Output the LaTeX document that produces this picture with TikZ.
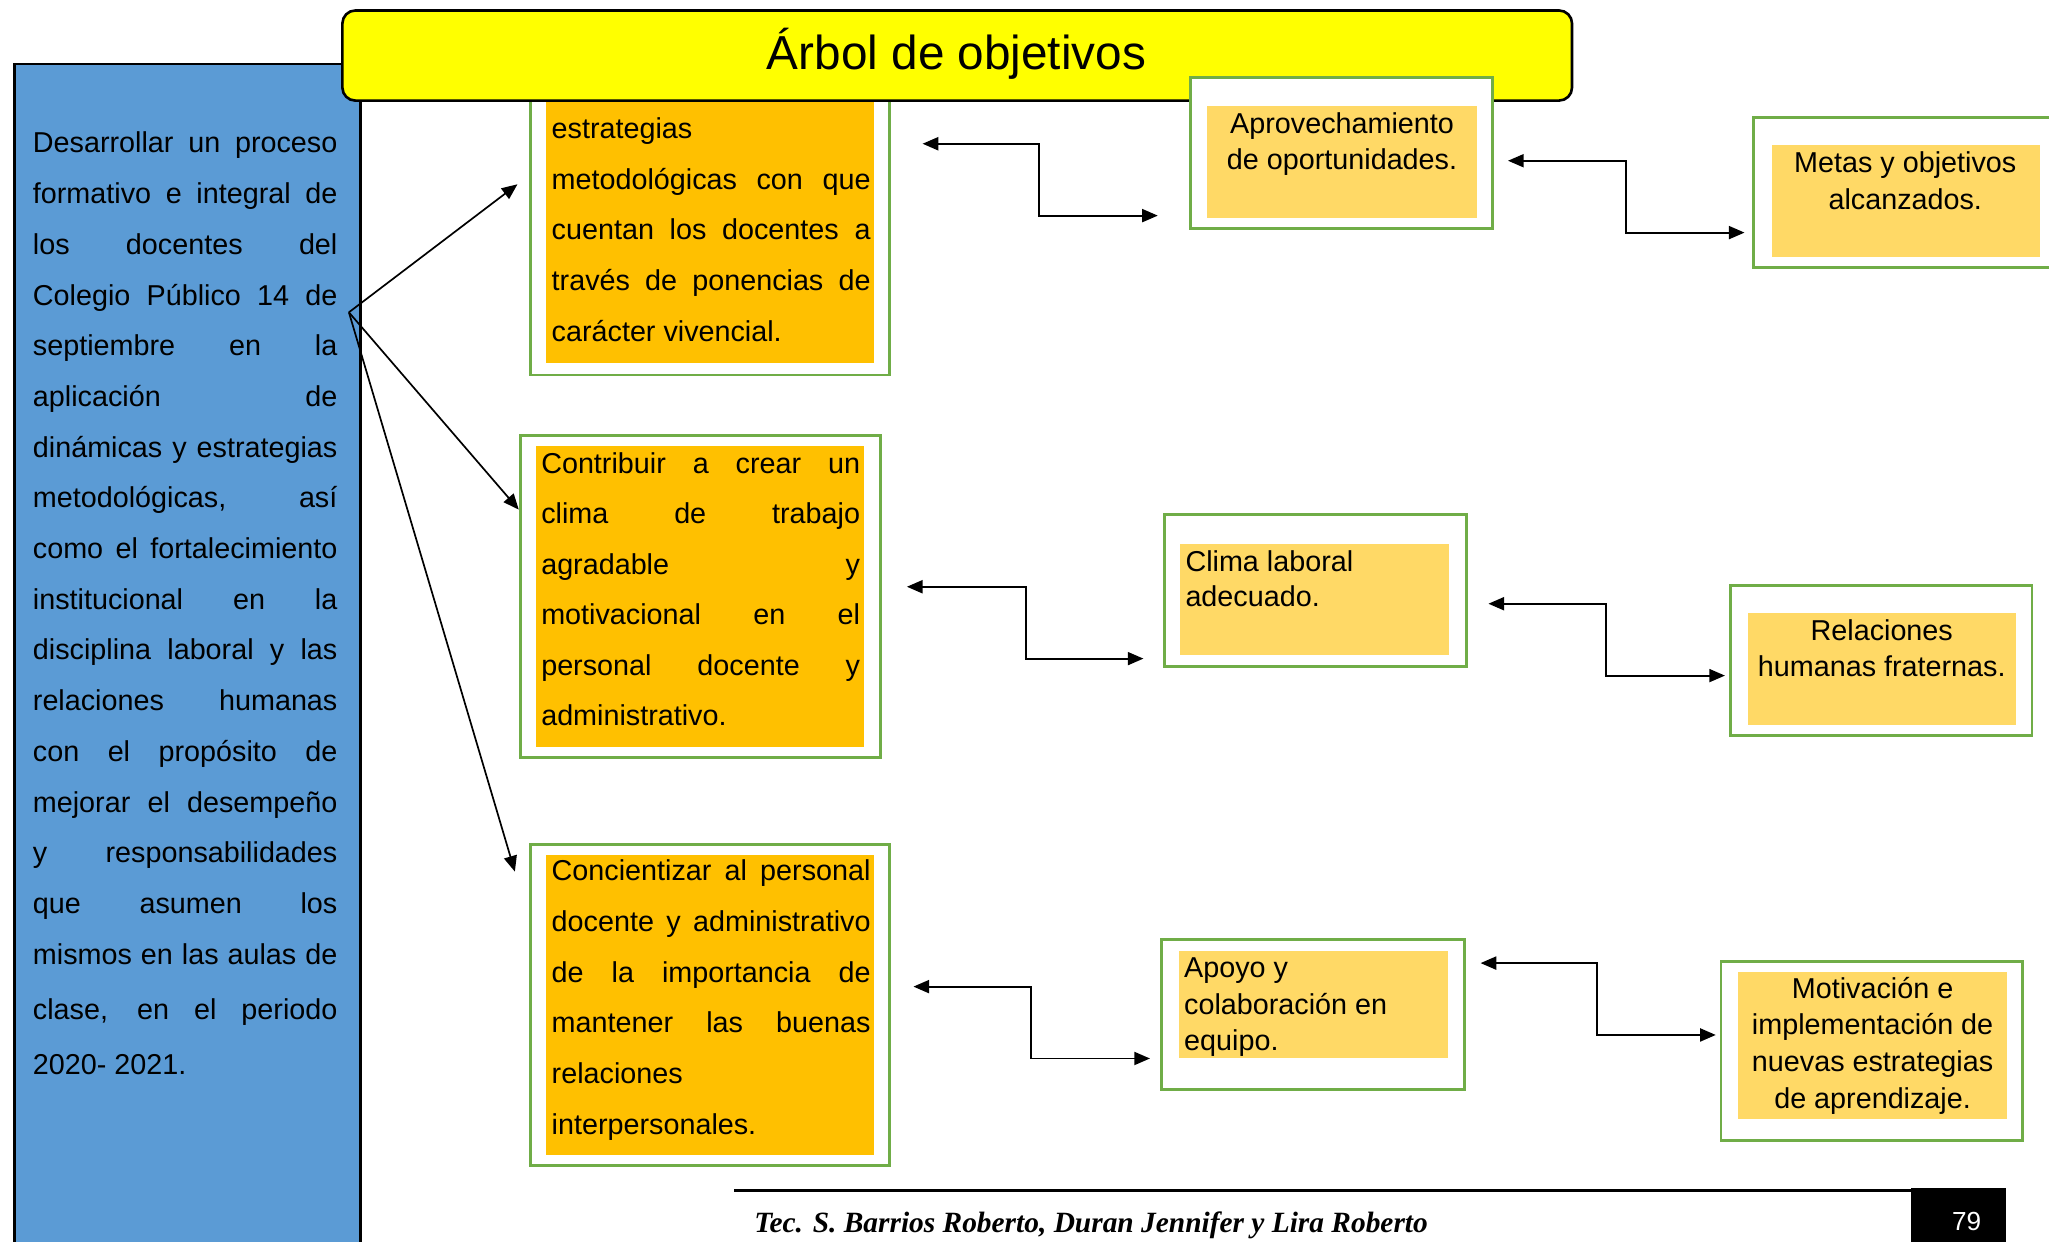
\documentclass[tikz,border=0pt]{standalone}
\usepackage{fontspec}
\setmainfont{Liberation Sans}
\newfontfamily\footfont{Liberation Serif}
\usetikzlibrary{arrows.meta}
\definecolor{bluebx}{HTML}{5B9BD5}
\definecolor{orng}{HTML}{FFC000}
\definecolor{lorng}{HTML}{FFD966}
\definecolor{grn}{HTML}{70AD47}
\definecolor{yel}{HTML}{FFFF00}
\newlength\jw
\newcommand\J[1]{\makebox[\jw][s]{#1}}
\tikzset{
  gbox/.style={draw=grn, line width=2.2pt, fill=white, inner sep=0pt},
  ofill/.style={fill=orng, inner sep=0pt},
  lfill/.style={fill=lorng, inner sep=0pt},
  jt/.style={font=\fontsize{22}{26}\selectfont, inner sep=0pt, anchor=base west},
  ct/.style={font=\fontsize{22}{26}\selectfont, inner sep=0pt, anchor=base},
  tip/.tip={Triangle[length=12pt,width=10pt]},
  conn/.style={line width=1.3pt, -tip},
  dconn/.style={line width=1.4pt, tip-tip},
}
\begin{document}
\begin{tikzpicture}[x=1pt,y=-1pt]
\useasboundingbox (0,0) rectangle (1568,950);
\clip (0,0) rectangle (1568,950);
% ---- left blue box
\node[draw=black, line width=2pt, fill=bluebx, minimum width=265pt, minimum height=920pt, anchor=north west, inner sep=0pt] (obj) at (10,48) {};
\setlength\jw{233pt}
\foreach \t [count=\i] in {{\J{Desarrollar un proceso}},{\J{formativo e integral de}},{\J{los docentes del}},{\J{Colegio Público 14 de}},{\J{septiembre en la}},{\J{aplicación de}},{\J{dinámicas y estrategias}},{\J{metodológicas, así}},{\J{como el fortalecimiento}},{\J{institucional en la}},{\J{disciplina laboral y las}},{\J{relaciones humanas}},{\J{con el propósito de}},{\J{mejorar el desempeño}},{\J{y responsabilidades}},{\J{que asumen los}},{\J{mismos en las aulas de}}}
  \node[jt] (p\i) at (25,{117+38.8*(\i-1)}) {\t};
\node[jt] (p18) at (25,780) {\J{clase, en el periodo}};
\node[jt] (p19) at (25,822) {2020- 2021.};
% ---- left column boxes
\setlength\jw{244pt}
\node[gbox, minimum width=275pt, minimum height=227pt] (a1) at (543.5,173.5) {};
\node[ofill, minimum width=251pt, minimum height=208pt] (a1f) at (543.5,174) {};
\foreach \t [count=\i] in {{estrategias},{\J{metodológicas con que}},{\J{cuentan los docentes a}},{\J{través de ponencias de}},{carácter vivencial.}}
  \node[jt] (a1t\i) at (422,{106+38.8*(\i-1)}) {\t};
\node[gbox, minimum width=276pt, minimum height=247pt] (a2) at (536,456.5) {};
\node[ofill, minimum width=251pt, minimum height=231pt] (a2f) at (535.5,456.5) {};
\foreach \t [count=\i] in {{\J{Contribuir a crear un}},{\J{clima de trabajo}},{\J{agradable y}},{\J{motivacional en el}},{\J{personal docente y}},{administrativo.}}
  \node[jt] (a2t\i) at (414,{362+38.7*(\i-1)}) {\t};
\node[gbox, minimum width=275pt, minimum height=246pt] (a3) at (543.5,769) {};
\node[ofill, minimum width=251pt, minimum height=230pt] (a3f) at (543.5,769) {};
\foreach \t [count=\i] in {{\J{Concientizar al personal}},{\J{docente y administrativo}},{\J{de la importancia de}},{\J{mantener las buenas}},{relaciones},{interpersonales.}}
  \node[jt] (a3t\i) at (422,{674+38.8*(\i-1)}) {\t};
% ---- title banner
\node[draw=black, line width=2pt, fill=yel, rounded corners=10pt, minimum width=941pt, minimum height=69pt, inner sep=0pt] (ban) at (732.5,42.5) {};
\node[font=\fontsize{36.5}{40}\selectfont, inner sep=0pt, anchor=base] (title) at (732,53) {Árbol de objetivos};
% ---- middle column
\node[gbox, minimum width=231pt, minimum height=116pt] (b1) at (1026.5,117) {};
\node[lfill, minimum width=206pt, minimum height=86pt] (b1f) at (1027,124) {};
\node[ct] (b1t1) at (1027,102) {Aprovechamiento};
\node[ct] (b1t2) at (1027,129.5) {de oportunidades.};
\node[gbox, minimum width=231pt, minimum height=116pt] (b2) at (1006.5,452) {};
\node[lfill, minimum width=206pt, minimum height=85pt] (b2f) at (1006,458.5) {};
\node[jt] (b2t1) at (907,437) {Clima laboral};
\node[jt] (b2t2) at (907,464.5) {adecuado.};
\node[gbox, minimum width=232pt, minimum height=115pt] (b3) at (1005,776.5) {};
\node[lfill, minimum width=206pt, minimum height=82pt] (b3f) at (1005,769) {};
\node[jt] (b3t1) at (906,748) {Apoyo y};
\node[jt] (b3t2) at (906,776) {colaboración en};
\node[jt] (b3t3) at (906,804) {equipo.};
% ---- right column
\node[gbox, minimum width=227pt, minimum height=115pt] (c1) at (1455.5,147.5) {};
\node[lfill, minimum width=205pt, minimum height=86pt] (c1f) at (1458.5,154) {};
\node[ct] (c1t1) at (1458,132) {Metas y objetivos};
\node[ct] (c1t2) at (1458,160) {alcanzados.};
\node[gbox, minimum width=231pt, minimum height=115pt] (c2) at (1439.5,505.5) {};
\node[lfill, minimum width=205pt, minimum height=86pt] (c2f) at (1440.5,512) {};
\node[ct] (c2t1) at (1440,490) {Relaciones};
\node[ct] (c2t2) at (1440,518) {humanas fraternas.};
\node[gbox, minimum width=231pt, minimum height=137pt] (c3) at (1432.5,804.5) {};
\node[lfill, minimum width=206pt, minimum height=112pt] (c3f) at (1433,800) {};
\foreach \t [count=\i] in {{Motivación e},{implementación de},{nuevas estrategias},{de aprendizaje.}}
  \node[ct] (c3t\i) at (1433,{764+28*(\i-1)}) {\t};
% ---- connectors from the left box
\coordinate (src) at (267,239);
\coordinate (e1) at (396,141);
\coordinate (e2) at (397,390);
\coordinate (e3) at (394,667);
\draw[conn] (src) -- (e1);
\draw[conn] (src) -- (e2);
\draw[conn] (src) -- (e3);
% ---- elbow connectors
\coordinate (l1a) at (706,110);  \coordinate (l1b) at (886,165);
\coordinate (r1a) at (1154,123); \coordinate (r1b) at (1335,178);
\coordinate (l2a) at (694,449);  \coordinate (l2b) at (875,504);
\coordinate (r2a) at (1139,462); \coordinate (r2b) at (1320,517);
\coordinate (l3a) at (699,755);  \coordinate (l3b) at (880,810);
\coordinate (r3a) at (1133,737); \coordinate (r3b) at (1313,792);
\draw[dconn] (l1a) -- (795,110) |- (l1b);
\draw[dconn] (r1a) -- (1244,123) |- (r1b);
\draw[dconn] (l2a) -- (785,449) |- (l2b);
\draw[dconn] (r2a) -- (1229,462) |- (r2b);
\draw[dconn] (l3a) -- (789,755) |- (l3b);
\draw[dconn] (r3a) -- (1222,737) |- (r3b);
% ---- footer
\coordinate (fl) at (562,911);
\coordinate (fr) at (1462,911);
\draw[line width=3pt] (fl) -- (fr);
\node[fill=black, minimum width=73pt, minimum height=50pt, inner sep=0pt, anchor=north west] (pg) at (1462,909) {};
\node[text=white, font=\fontsize{20}{24}\selectfont, inner sep=0pt, anchor=base] (pgn) at (1505,942) {79};
\node[font=\footfont\bfseries\itshape\fontsize{22.5}{26}\selectfont, inner sep=0pt, anchor=base west] (auth) at (577,943) {Tec. S. Barrios Roberto, Duran Jennifer y Lira Roberto};
\end{tikzpicture}
\end{document}
